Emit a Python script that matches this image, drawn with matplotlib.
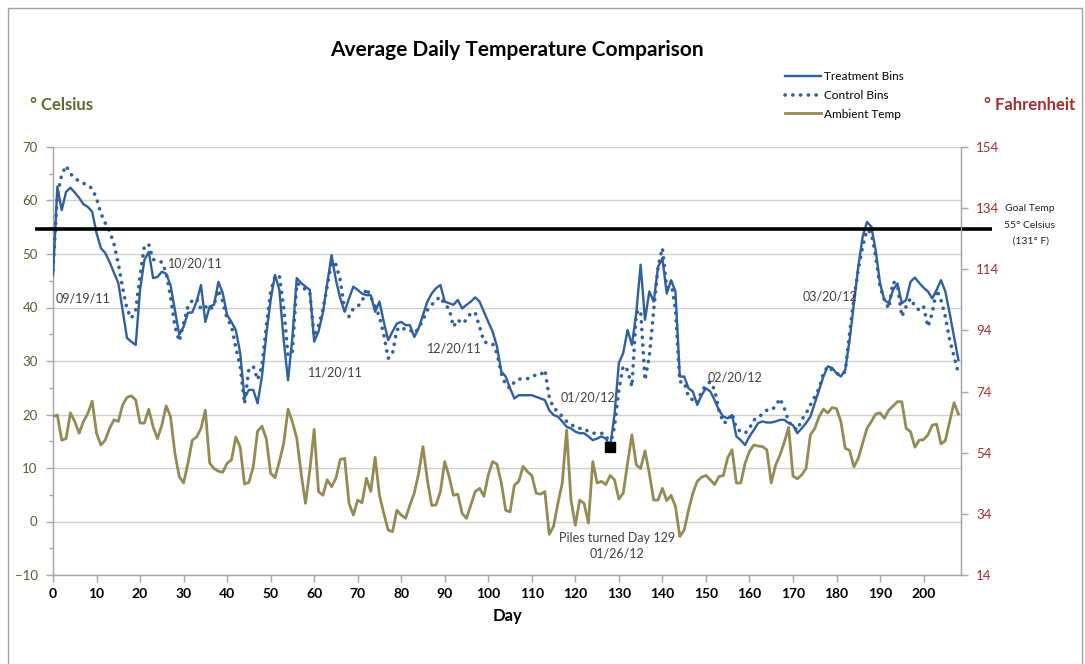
import matplotlib
matplotlib.use("Agg")
import matplotlib.pyplot as plt
from matplotlib.lines import Line2D
from matplotlib.patches import Rectangle
import numpy as np

plt.rcParams['font.family'] = ['Lato', 'DejaVu Sans']

days = list(range(0, 209))

treatment = [
    46.0, 62.6, 58.2, 61.6, 62.4, 61.5, 60.5, 59.3, 58.8, 57.9,
    53.9, 51.1, 50.2, 48.5, 46.5, 44.6, 39.5, 34.3, 33.6, 33.0,
    43.3, 48.9, 50.4, 45.5, 45.7, 46.7, 46.3, 44.2, 39.5, 34.9,
    36.4, 39.0, 39.1, 41.1, 44.2, 37.3, 40.2, 40.5, 44.8, 42.7,
    38.6, 37.3, 35.8, 31.5, 23.1, 24.6, 24.6, 22.1, 27.1, 34.9,
    41.4, 46.1, 43.3, 33.9, 26.4, 34.5, 45.5, 44.6, 43.9, 43.3,
    33.6, 35.5, 39.0, 44.5, 49.8, 45.1, 41.7, 39.2, 41.7, 43.9,
    43.3, 42.6, 42.3, 42.3, 39.2, 41.1, 37.3, 33.9, 35.5, 37.0,
    37.3, 36.7, 36.7, 34.5, 36.1, 38.6, 41.1, 42.6, 43.6, 44.2,
    41.1, 40.8, 40.5, 41.4, 39.8, 40.5, 41.1, 41.9, 41.1, 39.2,
    37.3, 35.5, 32.7, 28.0, 27.1, 24.9, 23.0, 23.6, 23.6, 23.6,
    23.6, 23.3, 23.0, 22.7, 20.8, 19.9, 19.6, 18.7, 17.7, 17.4,
    16.8, 16.5, 16.5, 15.9, 15.2, 15.5, 15.9, 15.5, 14.0, 20.0,
    29.6, 31.5, 35.8, 33.0, 39.0, 48.0, 37.7, 43.0, 41.1, 47.6,
    49.2, 42.6, 45.1, 43.0, 27.1, 27.1, 24.9, 24.3, 21.8, 23.6,
    24.9, 24.3, 22.7, 20.8, 19.6, 19.3, 19.9, 15.9, 15.2, 14.3,
    15.9, 17.1, 18.4, 18.7, 18.5, 18.5, 18.7, 19.0, 19.0, 18.4,
    18.0, 16.5, 17.4, 18.4, 19.6, 22.1, 24.6, 27.1, 29.0, 28.7,
    27.7, 27.1, 28.3, 33.9, 40.8, 47.6, 53.2, 56.0, 55.1, 50.7,
    44.5, 41.4, 40.8, 43.3, 44.5, 40.8, 41.4, 44.8, 45.6, 44.6,
    43.7, 43.0, 41.7, 43.3, 45.1, 43.0, 38.9, 34.5, 30.2,
]

control = [
    47.0, 61.0, 64.8, 66.5, 65.0, 64.2, 63.6, 63.2, 62.9, 62.2,
    60.4, 57.6, 55.8, 54.3, 51.9, 48.2, 43.7, 39.7, 38.0, 39.5,
    46.0, 51.5, 51.8, 49.0, 48.6, 48.5, 46.5, 42.0, 36.5, 33.7,
    37.0, 40.2, 41.3, 41.7, 39.7, 40.2, 39.5, 40.5, 43.3, 41.1,
    37.9, 36.6, 32.5, 29.0, 22.0, 28.5, 29.0, 26.5, 29.0, 36.5,
    43.0, 45.8, 46.0, 40.0, 31.0, 31.8, 44.5, 44.2, 43.3, 42.7,
    34.6, 36.6, 39.5, 44.0, 48.5, 48.0, 45.1, 39.5, 38.3, 39.8,
    40.2, 41.1, 43.6, 42.0, 40.2, 38.3, 34.9, 30.5, 31.4, 35.8,
    36.4, 35.8, 35.8, 35.2, 36.1, 37.7, 39.5, 40.5, 41.4, 42.0,
    40.5, 39.8, 36.4, 37.7, 37.0, 37.7, 39.0, 39.0, 36.4, 33.6,
    33.3, 33.2, 31.4, 27.7, 25.5, 24.9, 26.1, 26.6, 26.7, 26.7,
    27.1, 27.4, 27.4, 28.3, 23.3, 21.2, 20.6, 19.6, 18.7, 18.1,
    17.7, 17.4, 17.4, 16.8, 16.5, 16.5, 16.5, 16.2, 14.3, 17.7,
    24.6, 29.1, 28.3, 25.2, 39.0, 39.5, 26.4, 30.9, 39.5, 47.6,
    51.1, 43.6, 44.8, 39.5, 26.1, 26.1, 23.3, 22.7, 22.1, 24.3,
    25.5, 26.1, 24.6, 20.8, 18.4, 18.7, 20.2, 17.4, 16.8, 16.5,
    17.4, 19.0, 19.3, 20.2, 20.8, 20.8, 21.5, 23.0, 21.2, 18.7,
    17.7, 17.1, 19.0, 20.2, 21.8, 23.3, 24.9, 27.7, 29.0, 28.3,
    27.7, 27.4, 28.0, 35.2, 41.6, 47.1, 51.4, 54.5, 53.9, 49.5,
    43.9, 41.4, 39.8, 44.8, 44.2, 38.3, 40.2, 41.7, 40.2, 39.5,
    40.2, 36.4, 39.0, 43.3, 41.4, 38.3, 33.9, 30.9, 27.7,
]

ambient = [
    19.6, 19.9, 15.2, 15.5, 20.3, 18.7, 16.5, 18.7, 20.2, 22.5,
    16.5, 14.3, 15.2, 17.4, 19.0, 18.7, 21.8, 23.2, 23.5, 22.7,
    18.4, 18.4, 21.0, 17.7, 15.5, 18.0, 21.6, 19.6, 12.8, 8.4,
    7.2, 10.9, 15.2, 15.8, 17.4, 20.8, 10.9, 9.9, 9.4, 9.2,
    10.9, 11.5, 15.8, 13.9, 7.0, 7.3, 10.2, 16.9, 17.8, 15.5,
    9.0, 8.2, 11.2, 14.6, 21.0, 18.6, 15.6, 9.0, 3.4, 9.6,
    17.2, 5.6, 4.9, 7.8, 6.5, 8.1, 11.6, 11.8, 3.4, 1.2,
    4.0, 3.5, 8.1, 5.6, 12.0, 4.9, 1.5, -1.6, -1.9, 2.1,
    1.2, 0.6, 3.1, 5.3, 9.0, 14.0, 7.8, 3.0, 3.1, 5.6,
    11.2, 8.4, 4.9, 5.1, 1.5, 0.6, 3.1, 5.6, 6.2, 4.7,
    8.7, 11.2, 10.7, 7.2, 2.1, 1.8, 6.8, 7.5, 10.3, 9.3,
    8.6, 5.3, 5.1, 5.6, -2.4, -0.9, 3.4, 7.2, 17.1, 4.0,
    -0.7, 4.0, 3.4, -0.3, 11.2, 7.2, 7.5, 6.9, 8.6, 7.8,
    4.2, 5.3, 10.9, 16.2, 10.6, 9.9, 13.2, 9.0, 4.0, 4.0,
    6.2, 3.9, 4.9, 2.8, -2.8, -1.6, 2.1, 5.3, 7.5, 8.3,
    8.6, 7.8, 6.9, 8.4, 8.6, 11.9, 13.4, 7.2, 7.2, 10.9,
    13.1, 14.3, 14.1, 14.0, 13.4, 7.2, 10.5, 12.4, 14.8, 17.6,
    8.5, 8.0, 8.7, 9.9, 16.2, 17.4, 19.6, 21.0, 20.3, 21.3,
    21.1, 18.7, 13.7, 13.3, 10.2, 11.8, 14.6, 17.4, 18.7, 20.1,
    20.3, 19.3, 20.8, 21.6, 22.4, 22.4, 17.4, 16.8, 13.9, 15.2,
    15.3, 16.2, 18.0, 18.2, 14.5, 15.1, 18.7, 22.2, 20.1,
]

goal_temp_c = 54.7
turn_day = 128
turn_temp = 14.0

celsius_ticks = list(range(-10, 71, 10))
fahrenheit_ticks = list(range(14, 155, 20))
day_ticks = list(range(0, 201, 10))

date_labels = ["09/19/11", "10/20/11", "11/20/11", "12/20/11",
               "01/20/12", "02/20/12", "03/20/12"]
date_label_pos = [(7, 41.6), (32.6, 48.3), (64.8, 27.9), (92.3, 32.4),
                  (122.8, 23.1), (156.6, 27.0), (178.4, 42.0)]

BLUE = '#2f5f9d'
OLIVE = '#948a54'
AXIS_OLIVE = '#5b5b3a'
RED = '#a0302f'
GRID = '#d0d0d0'
SPINE = '#a6a6a6'
TXT = '#3f3f3f'
DOTS = (0, (0.05, 2.1))

fig = plt.figure(figsize=(10.85, 6.64), dpi=100)
ax = fig.add_axes([53/1085, 1 - 575/664, 908/1085, 428/664])

ax.plot(days, ambient, color=OLIVE, lw=2.0, zorder=3)
ax.plot(days, control, color=BLUE, lw=2.6, linestyle=DOTS,
        dash_capstyle='round', zorder=4)
ax.plot(days, treatment, color=BLUE, lw=1.7, zorder=5)
ax.plot([turn_day], [turn_temp], marker='s', color='black', ms=7, zorder=6)

ax.plot([-4.1, 215.8], [goal_temp_c, goal_temp_c], color='black', lw=2.6,
        clip_on=False, zorder=6, solid_capstyle='butt')

ax.set_xlim(0, 208.6)
ax.set_ylim(-10, 70)
ax.set_xticks(day_ticks)
ax.set_yticks(celsius_ticks)
ax.set_yticks(list(range(-5, 70, 10)), minor=True)
ax.set_xticks(list(range(5, 206, 10)), minor=True)
ax.grid(axis='y', color=GRID, lw=1.0, zorder=0)
ax.set_axisbelow(True)
for s in ['left', 'bottom', 'right']:
    ax.spines[s].set_color(SPINE)
    ax.spines[s].set_linewidth(1.0)
ax.spines['top'].set_visible(False)
ax.tick_params(axis='y', which='major', colors=SPINE, labelcolor=AXIS_OLIVE,
               labelsize=9.5, length=5, width=1, pad=6)
ax.tick_params(axis='y', which='minor', colors=SPINE, length=3, width=1)
ax.tick_params(axis='x', which='major', colors=SPINE, labelcolor='black',
               labelsize=10, length=5, width=1, pad=4)
ax.tick_params(axis='x', which='minor', colors=SPINE, length=0)
for lbl in ax.get_xticklabels():
    lbl.set_fontweight('bold')
ax.set_xlabel('Day', fontsize=12, fontweight='bold', labelpad=6)

ax2 = ax.twinx()
ax2.set_ylim(14, 154)
ax2.set_yticks(fahrenheit_ticks)
ax2.tick_params(axis='y', colors=SPINE, labelcolor=RED, labelsize=9.5,
                length=5, width=1, pad=6)
for s in ['left', 'top', 'bottom']:
    ax2.spines[s].set_visible(False)
ax2.spines['right'].set_color(SPINE)

for lab, (x, y) in zip(date_labels, date_label_pos):
    ax.text(x, y, lab, ha='center', va='center', fontsize=9, color=TXT,
            zorder=7)
ax.text(129.5, -3.1, 'Piles turned Day 129', ha='center', va='center',
        fontsize=9, color=TXT)
ax.text(129.5, -5.9, '01/26/12', ha='center', va='center', fontsize=9,
        color=TXT)

fig.text(1030/1085, 1 - 209/664, 'Goal Temp', ha='center', va='center',
         fontsize=7.5, color='#222222')
fig.text(1030/1085, 1 - 225/664, '55° Celsius', ha='center', va='center',
         fontsize=7.5, color='#222222')
fig.text(1030/1085, 1 - 241/664, ' (131° F)', ha='center', va='center',
         fontsize=7.5, color='#222222')

fig.text(517/1085, 1 - 50/664, 'Average Daily Temperature Comparison',
         ha='center', va='center', fontsize=15, fontweight='bold',
         color='black')
fig.text(30/1085, 1 - 105/664, '° Celsius', ha='left', va='center',
         fontsize=12, fontweight='bold', color='#5e6a2a')
fig.text(984/1085, 1 - 105/664, '° Fahrenheit', ha='left', va='center',
         fontsize=12, fontweight='bold', color=RED)

handles = [
    Line2D([], [], color=BLUE, lw=1.7),
    Line2D([], [], color=BLUE, lw=2.6, linestyle=DOTS,
           dash_capstyle='round'),
    Line2D([], [], color=OLIVE, lw=2.0),
]
ax.legend(handles, ['Treatment Bins', 'Control Bins', 'Ambient Temp'],
          loc='upper left', bbox_to_anchor=(777/1085, 1 - 63/664),
          bbox_transform=fig.transFigure, frameon=False, fontsize=8.5,
          handlelength=3.0, handletextpad=0.3, labelspacing=0.65,
          borderpad=0.2)

fig.add_artist(Rectangle((8/1085, -0.01), (1082 - 8)/1085, 1 - 8/664 + 0.01,
                         transform=fig.transFigure, fill=False,
                         edgecolor='#a0a0a0', lw=1.0))

fig.savefig('out.png', dpi=100)
